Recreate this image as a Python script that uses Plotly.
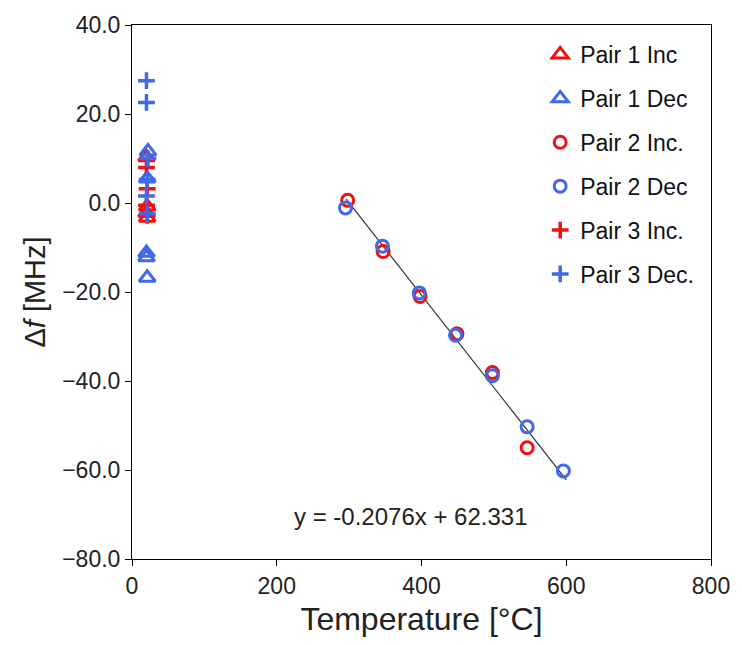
import plotly.graph_objects as go

# Room-temperature readings (°C, MHz)
p1_inc_t = [20, 21, 20, 21]
p1_inc_df = [10.3, -0.8, -2.2, -3.3]
p1_dec_t = [22, 21, 20, 20, 21]
p1_dec_df = [11.6, 5.5, -11.2, -12.2, -16.8]
p3_inc_t = [20, 21, 20, 21]
p3_inc_df = [8.0, 3.2, -0.5, -2.8]
p3_dec_t = [20, 20, 22, 21, 20, 21]
p3_dec_df = [27.5, 22.6, 10.0, 5.3, 1.6, -2.4]

# High-temperature sweep
p2_inc_t = [298, 347, 398, 449, 498, 546]
p2_inc_df = [0.6, -10.9, -21.0, -29.4, -38.1, -55.0]
p2_dec_t = [295, 346, 397, 447, 498, 546, 596]
p2_dec_df = [-1.1, -9.7, -20.2, -29.7, -38.8, -50.3, -60.2]

# Linear trendline
slope = -0.2076
intercept = 62.331
fit_t = [296, 600]

RED = "#F01010"
BLUE = "#3F69E8"
FONT = "Liberation Sans, Arial, sans-serif"

series = [
    ("Pair 1 Inc", p1_inc_t, p1_inc_df, "triangle-up-open", RED, 14),
    ("Pair 1 Dec", p1_dec_t, p1_dec_df, "triangle-up-open", BLUE, 14),
    ("Pair 2 Inc.", p2_inc_t, p2_inc_df, "circle-open", RED, 12),
    ("Pair 2 Dec", p2_dec_t, p2_dec_df, "circle-open", BLUE, 12),
    ("Pair 3 Inc.", p3_inc_t, p3_inc_df, "cross", RED, 12),
    ("Pair 3 Dec.", p3_dec_t, p3_dec_df, "cross", BLUE, 12),
]

fig = go.Figure()

fig.add_trace(go.Scatter(
    x=fit_t, y=[slope * t + intercept for t in fit_t],
    mode="lines", line=dict(color="#333333", width=1.2),
    showlegend=False, hoverinfo="skip",
))

for i, (name, xs, ys, sym, col, size) in enumerate(series):
    if sym == "cross":
        marker = dict(symbol="cross-thin", size=size, color=col,
                      line=dict(color=col, width=3.5))
    else:
        marker = dict(symbol=sym, size=size, color=col,
                      line=dict(color=col, width=3))
    fig.add_trace(go.Scatter(
        x=xs, y=ys, mode="markers", name=name, marker=marker,
        legendgroup=f"g{i}",
    ))

fig.add_annotation(
    x=386, y=-70.5, xref="x", yref="y",
    text=f"y = {slope}x + {intercept}", showarrow=False,
    font=dict(family=FONT, size=24, color="#222222"),
)

axis_common = dict(
    showline=True, linecolor="black", linewidth=1, mirror=True,
    ticks="outside", ticklen=6, tickcolor="black", tickwidth=1,
    showgrid=False, zeroline=False,
    tickfont=dict(family=FONT, size=23, color="#222222"),
)

fig.update_xaxes(
    range=[0, 800], dtick=200, tick0=0,
    title=dict(text="Temperature [°C]", font=dict(family=FONT, size=32, color="#222222"), standoff=10),
    **axis_common,
)
fig.update_yaxes(
    range=[-80, 40], dtick=20, tick0=0, tickformat=".1f",
    title=dict(text="Δ<i>f</i> [MHz]", font=dict(family=FONT, size=29, color="#222222"), standoff=8),
    **axis_common,
)

fig.update_layout(
    width=742, height=645,
    margin=dict(l=132, r=21, t=21, b=86),
    plot_bgcolor="white", paper_bgcolor="white",
    legend=dict(
        x=0.705, y=0.985, xanchor="left", yanchor="top",
        font=dict(family=FONT, size=23, color="#111111"),
        tracegroupgap=11, itemwidth=30, bgcolor="rgba(0,0,0,0)",
    ),
)

fig.write_html("out.html")
